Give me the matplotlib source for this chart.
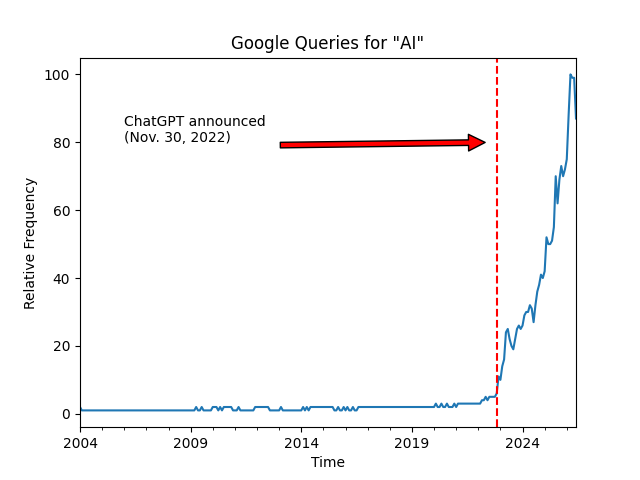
import pandas as pd
import matplotlib.pyplot as plt

# monthly Google Trends values for "AI", Jan 2004 onwards
start_month = '2004-01'
ai_2004 = [2, 1, 1, 1, 1, 1, 1, 1, 1, 1, 1, 1]
ai_2005 = [1, 1, 1, 1, 1, 1, 1, 1, 1, 1, 1, 1]
ai_2006 = [1, 1, 1, 1, 1, 1, 1, 1, 1, 1, 1, 1]
ai_2007 = [1, 1, 1, 1, 1, 1, 1, 1, 1, 1, 1, 1]
ai_2008 = [1, 1, 1, 1, 1, 1, 1, 1, 1, 1, 1, 1]
ai_2009 = [1, 1, 1, 2, 1, 1, 2, 1, 1, 1, 1, 1]
ai_2010 = [2, 2, 2, 1, 2, 1, 2, 2, 2, 2, 2, 1]
ai_2011 = [1, 1, 2, 1, 1, 1, 1, 1, 1, 1, 1, 2]
ai_2012 = [2, 2, 2, 2, 2, 2, 2, 1, 1, 1, 1, 1]
ai_2013 = [1, 2, 1, 1, 1, 1, 1, 1, 1, 1, 1, 1]
ai_2014 = [1, 2, 1, 2, 1, 2, 2, 2, 2, 2, 2, 2]
ai_2015 = [2, 2, 2, 2, 2, 2, 1, 1, 2, 1, 1, 2]
ai_2016 = [1, 2, 1, 1, 2, 1, 1, 2, 2, 2, 2, 2]
ai_2017 = [2, 2, 2, 2, 2, 2, 2, 2, 2, 2, 2, 2]
ai_2018 = [2, 2, 2, 2, 2, 2, 2, 2, 2, 2, 2, 2]
ai_2019 = [2, 2, 2, 2, 2, 2, 2, 2, 2, 2, 2, 2]
ai_2020 = [2, 3, 2, 2, 3, 2, 2, 3, 2, 2, 2, 3]
ai_2021 = [2, 3, 3, 3, 3, 3, 3, 3, 3, 3, 3, 3]
ai_2022 = [3, 3, 4, 4, 5, 4, 5, 5, 5, 5, 6, 11]
ai_2023 = [10, 14, 16, 24, 25, 22, 20, 19, 22, 25, 26, 25]
ai_2024 = [26, 29, 30, 30, 32, 31, 27, 32, 36, 38, 41, 40]
ai_2025 = [42, 52, 50, 50, 51, 55, 70, 62, 69, 73, 70, 72]
ai_2026 = [75, 88, 100, 99, 99, 87]

chatgpt_date = pd.Timestamp('2022-11-30')
text_date = pd.Timestamp('2006-01-01')

values = (ai_2004 + ai_2005 + ai_2006 + ai_2007 + ai_2008 + ai_2009 + ai_2010
          + ai_2011 + ai_2012 + ai_2013 + ai_2014 + ai_2015 + ai_2016 + ai_2017
          + ai_2018 + ai_2019 + ai_2020 + ai_2021 + ai_2022 + ai_2023 + ai_2024
          + ai_2025 + ai_2026)
dates = pd.date_range(start_month, periods=len(values), freq='MS')
series = pd.Series(values, index=dates)

fig, ax = plt.subplots(figsize=(6.4, 4.8), dpi=100)
series.plot(ax=ax)
ax.axvline(chatgpt_date, color='r', linestyle='--')
ax.annotate('ChatGPT announced\n(Nov. 30, 2022)', xy=(chatgpt_date, 80),
            xytext=(text_date, 80),
            arrowprops=dict(facecolor='red', shrink=0.05))
ax.set_title('Google Queries for "AI"')
ax.set_xlabel('Time')
ax.set_ylabel('Relative Frequency')
fig.savefig('out.png')
